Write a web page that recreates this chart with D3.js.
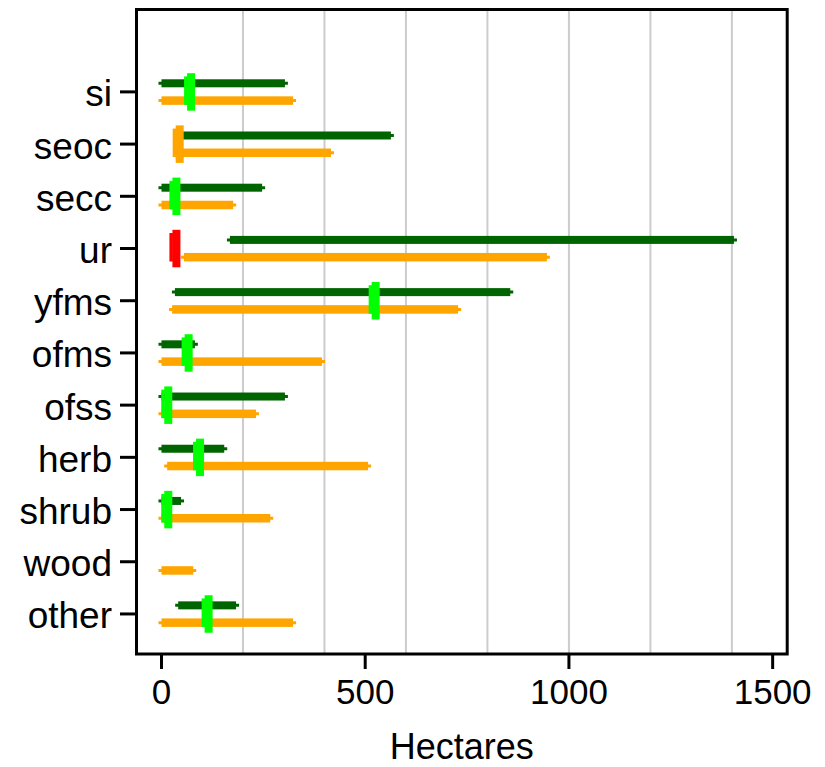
<!DOCTYPE html>
<html><head><meta charset="utf-8">
<script src="https://cdn.jsdelivr.net/npm/d3@7"></script>
<style>body{margin:0;background:#fff}</style>
</head><body><svg id="c" width="825" height="767"></svg>
<script>
const categories = ["si","seoc","secc","ur","yfms","ofms","ofss","herb","shrub","wood","other"];
const greenLo  = [0, 40, 0, 168, 33, 0, 0, 0, 0, null, 41];
const greenHi  = [303, 563, 247, 1405, 856, 82, 303, 154, 48, null, 183];
const orangeLo = [0, 40, 0, 55, 26, 0, 0, 14, 0, 0, 0];
const orangeHi = [323, 416, 176, 946, 728, 394, 232, 507, 267, 78, 323];
const markerVal  = [69, 41, 33, 33, 522, 63, 13, 91, 13, null, 112];
const markerType = ["in","mid","in","out","in","in","in","in","in",null,"in"];
const xTicks = [0, 500, 1000, 1500];
const gridVals = [200, 400, 600, 800, 1000, 1200, 1400];
const xTitle = "Hectares";

const svg = d3.select("#c");
const L = 136.5, R = 787.2, T = 9.5, B = 654;
const x = d3.scaleLinear().domain([-61.3, 1535.7]).range([L, R]);
const y = d3.scaleLinear().domain([-1.578, 10.767]).range([T, B]);
const mColor = d3.scaleOrdinal().domain(["in","mid","out"]).range(["#00FF00","#FFA500","#FF0000"]);
const GREEN = "#006400", ORANGE = "#FFA500";

// gridlines
svg.append("g").selectAll("line").data(gridVals).join("line")
  .attr("x1", d => x(d)).attr("x2", d => x(d))
  .attr("y1", T).attr("y2", B)
  .attr("stroke", "#CCCCCC").attr("stroke-width", 2);

function bars(lo, hi, color, off, h) {
  const data = categories.map((c, i) => ({i, lo: lo[i], hi: hi[i]})).filter(d => d.lo != null);
  const g = svg.append("g");
  g.selectAll("line").data(data).join("line")
    .attr("x1", d => x(d.lo) - 3).attr("x2", d => x(d.hi) + 3)
    .attr("y1", d => y(d.i) + off).attr("y2", d => y(d.i) + off)
    .attr("stroke", color).attr("stroke-width", 3);
  g.selectAll("rect").data(data).join("rect")
    .attr("x", d => x(d.lo)).attr("width", d => x(d.hi) - x(d.lo))
    .attr("y", d => y(d.i) + off - h / 2).attr("height", h)
    .attr("fill", color);
}
bars(greenLo, greenHi, GREEN, -8.6, 8);
bars(orangeLo, orangeHi, ORANGE, 8.7, 8.5);

// markers
const mData = categories.map((c, i) => ({i, v: markerVal[i], t: markerType[i]})).filter(d => d.v != null);
const mg = svg.append("g");
mg.selectAll("rect.a").data(mData).join("rect").attr("class", "a")
  .attr("x", d => x(d.v) - 5.5).attr("width", 3.5)
  .attr("y", d => y(d.i) - 15.5).attr("height", 28.5)
  .attr("fill", d => mColor(d.t));
mg.selectAll("rect.b").data(mData).join("rect").attr("class", "b")
  .attr("x", d => x(d.v) - 2.5).attr("width", 8)
  .attr("y", d => y(d.i) - 18.7).attr("height", 37.5)
  .attr("fill", d => mColor(d.t));

// frame
svg.append("rect").attr("x", L).attr("y", T).attr("width", R - L).attr("height", B - T)
  .attr("fill", "none").attr("stroke", "#000").attr("stroke-width", 3);

// y axis ticks and labels
const ya = svg.append("g");
ya.selectAll("line").data(categories).join("line")
  .attr("x1", 120).attr("x2", L).attr("y1", (d, i) => y(i)).attr("y2", (d, i) => y(i))
  .attr("stroke", "#000").attr("stroke-width", 3);
ya.selectAll("text").data(categories).join("text")
  .attr("x", 112).attr("y", (d, i) => y(i) + 14.5)
  .attr("text-anchor", "end")
  .attr("font-family", "Liberation Sans, Arial, sans-serif")
  .attr("font-size", 37).attr("fill", "#000")
  .text(d => d);

// x axis ticks and labels
const xa = svg.append("g");
xa.selectAll("line").data(xTicks).join("line")
  .attr("x1", d => x(d)).attr("x2", d => x(d)).attr("y1", B).attr("y2", 669)
  .attr("stroke", "#000").attr("stroke-width", 3);
xa.selectAll("text").data(xTicks).join("text")
  .attr("x", d => x(d)).attr("y", 704.3)
  .attr("text-anchor", "middle")
  .attr("font-family", "Liberation Sans, Arial, sans-serif")
  .attr("font-size", 35).attr("fill", "#000")
  .text(d => d);

svg.append("text").attr("x", (L + R) / 2).attr("y", 759)
  .attr("text-anchor", "middle")
  .attr("font-family", "Liberation Sans, Arial, sans-serif")
  .attr("font-size", 36).attr("fill", "#000")
  .text(xTitle);
</script></body></html>
